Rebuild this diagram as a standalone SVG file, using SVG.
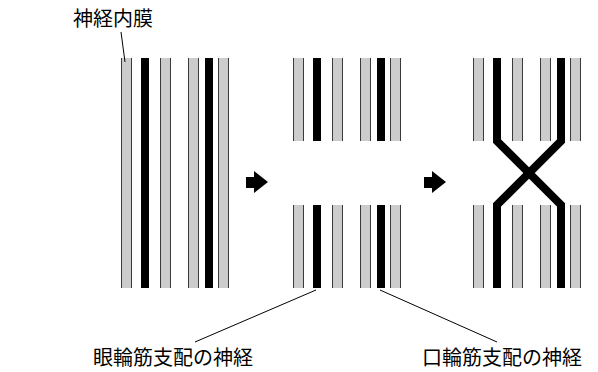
<svg xmlns="http://www.w3.org/2000/svg" width="598" height="372" viewBox="0 0 598 372">
  <style>
    .label { font-family: "Noto Sans CJK JP", "Noto Sans", sans-serif; font-size: 20px; fill: #000; }
    .gray { fill: #cccccc; }
    .edge { stroke: #3a3a3a; stroke-width: 1; }
    .nerve { fill: #000; }
    .leader { stroke: #000; stroke-width: 1; fill: none; }
    .arrow { fill: #000; }
    .cross { stroke: #000; stroke-width: 8; fill: none; stroke-linejoin: miter; }
  </style>
  <defs>
    <!-- endoneurium tube: light fill with dark side walls -->
    <symbol id="tube-long" overflow="visible">
      <rect x="0" y="0" width="11" height="230" class="gray"/>
      <path d="M0.5,0 V230 M10.5,0 V230" class="edge"/>
    </symbol>
    <symbol id="tube-short" overflow="visible">
      <rect x="0" y="0" width="11" height="83" class="gray"/>
      <path d="M0.5,0 V83 M10.5,0 V83" class="edge"/>
    </symbol>
  </defs>

  <!-- intact nerve -->
  <g id="intact">
    <use href="#tube-long" x="121" y="58"/>
    <rect x="141" y="58" width="8" height="230" class="nerve"/>
    <use href="#tube-long" x="160" y="58"/>
    <use href="#tube-long" x="188" y="58"/>
    <rect x="205" y="58" width="8" height="230" class="nerve"/>
    <use href="#tube-long" x="218" y="58"/>
  </g>

  <!-- severed nerve -->
  <g id="severed">
    <use href="#tube-short" x="293" y="58"/>
    <rect x="313" y="58" width="8" height="83" class="nerve"/>
    <use href="#tube-short" x="332" y="58"/>
    <use href="#tube-short" x="360" y="58"/>
    <rect x="377" y="58" width="8" height="83" class="nerve"/>
    <use href="#tube-short" x="390" y="58"/>

    <use href="#tube-short" x="293" y="205"/>
    <rect x="313" y="205" width="8" height="83" class="nerve"/>
    <use href="#tube-short" x="332" y="205"/>
    <use href="#tube-short" x="360" y="205"/>
    <rect x="377" y="205" width="8" height="83" class="nerve"/>
    <use href="#tube-short" x="390" y="205"/>
  </g>

  <!-- misdirected regeneration -->
  <g id="regenerated">
    <use href="#tube-short" x="473" y="58"/>
    <use href="#tube-short" x="512" y="58"/>
    <use href="#tube-short" x="540" y="58"/>
    <use href="#tube-short" x="570" y="58"/>
    <use href="#tube-short" x="473" y="205"/>
    <use href="#tube-short" x="512" y="205"/>
    <use href="#tube-short" x="540" y="205"/>
    <use href="#tube-short" x="570" y="205"/>
    <path d="M497,58 V141 L561,205 V288" class="cross"/>
    <path d="M561,58 V141 L497,205 V288" class="cross"/>
  </g>

  <g id="label-endoneurium">
    <text x="73" y="26" class="label">神経内膜</text>
  </g>
  <g id="label-orbicularis-oculi">
    <text x="93" y="365" class="label">眼輪筋支配の神経</text>
  </g>
  <g id="label-orbicularis-oris">
    <text x="422" y="365" class="label">口輪筋支配の神経</text>
  </g>

  <g id="connectors">
    <line x1="121" y1="32" x2="125" y2="62" class="leader"/>
    <line x1="316" y1="290" x2="195" y2="342" class="leader"/>
    <line x1="380" y1="290" x2="497" y2="342" class="leader"/>
    <polygon points="246,177 254,177 254,171 268,182 254,193 254,188 246,188" class="arrow"/>
    <polygon points="424,177 432,177 432,171 446,182 432,193 432,188 424,188" class="arrow"/>
  </g>
</svg>
